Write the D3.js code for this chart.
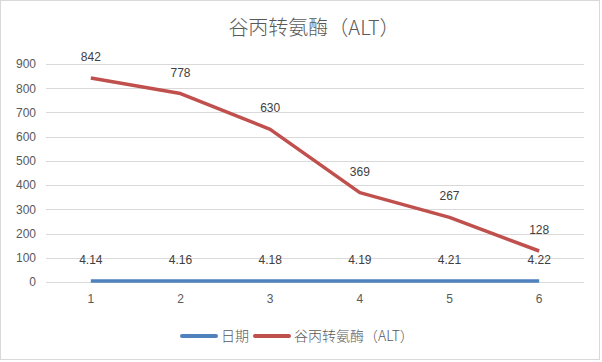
<!DOCTYPE html>
<html>
<head>
<meta charset="utf-8">
<script src="https://cdn.jsdelivr.net/npm/d3@7"></script>
<style>
  body { margin: 0; background: #fff; }
  text { font-family: "Noto Sans CJK SC", "Noto Sans", sans-serif; }
</style>
</head>
<body>
<div id="chart"></div>
<script>
// chart data
var categories = ["1", "2", "3", "4", "5", "6"];
var dateValues = [4.14, 4.16, 4.18, 4.19, 4.21, 4.22];
var altValues = [842, 778, 630, 369, 267, 128];
var yTicks = [0, 100, 200, 300, 400, 500, 600, 700, 800, 900];
var seriesNames = ["日期", "谷丙转氨酶（ALT）"];
var titleText = "谷丙转氨酶（ALT）";

var W = 602, H = 362;
var margin = {top: 64, right: 18, bottom: 80, left: 46};
var width = W - margin.left - margin.right;
var height = H - margin.top - margin.bottom;

var svg = d3.select("#chart").append("svg")
            .attr("width", W)
            .attr("height", H);

// outer frame
svg.append("rect")
   .attr("x", 0.5).attr("y", 0.5)
   .attr("width", W - 3).attr("height", H - 3)
   .attr("fill", "#fff")
   .attr("stroke", "#d9d9d9");

svg.append("text")
   .attr("x", 314).attr("y", 35)
   .attr("text-anchor", "middle")
   .attr("font-size", 20)
   .attr("font-weight", 300)
   .attr("fill", "#595959")
   .text(titleText);

var g = svg.append("g")
           .attr("transform", "translate(" + margin.left + "," + margin.top + ")");

var x = d3.scaleBand().domain(categories).range([0, width]);
var y = d3.scaleLinear().domain([0, 900]).range([height, 0]);

// grid lines
g.append("g")
 .selectAll("line")
 .data(yTicks)
 .enter()
 .append("line")
 .attr("x1", 0).attr("x2", width)
 .attr("y1", function(d) { return Math.round(y(d)) + 0.5; })
 .attr("y2", function(d) { return Math.round(y(d)) + 0.5; })
 .attr("stroke", "#d9d9d9");

var yAxis = g.append("g")
             .call(d3.axisLeft(y).tickValues(yTicks).tickSize(0).tickPadding(10));
yAxis.select(".domain").remove();
yAxis.selectAll("text").attr("font-size", 12).attr("fill", "#595959")
     .style("font-family", "'Liberation Sans', sans-serif");

var xAxis = g.append("g")
             .attr("transform", "translate(0," + height + ")")
             .call(d3.axisBottom(x).tickSize(0).tickPadding(12));
xAxis.select(".domain").remove();
xAxis.selectAll("text").attr("font-size", 12).attr("fill", "#595959")
     .style("font-family", "'Liberation Sans', sans-serif");

var cx = function(i) { return x(categories[i]) + x.bandwidth() / 2; };

var line = d3.line()
             .x(function(d, i) { return cx(i); })
             .y(function(d) { return y(d); });

var series = [
  {values: dateValues, color: "#4f81bd"},
  {values: altValues, color: "#c0504d"}
];

series.forEach(function(s) {
  g.append("path")
   .datum(s.values)
   .attr("d", line)
   .attr("fill", "none")
   .attr("stroke", s.color)
   .attr("stroke-width", 3.5)
   .attr("stroke-linejoin", "round");

  g.append("g")
   .selectAll("text")
   .data(s.values)
   .enter()
   .append("text")
   .attr("x", function(d, i) { return cx(i); })
   .attr("y", function(d) { return y(d) - 17; })
   .attr("text-anchor", "middle")
   .attr("font-size", 12)
   .attr("fill", "#404040")
   .style("font-family", "'Liberation Sans', sans-serif")
   .text(function(d) { return d; });
});

// legend
var legend = svg.append("g").attr("transform", "translate(0,336)");
var legendX = [182, 255];
series.forEach(function(s, i) {
  legend.append("line")
        .attr("x1", legendX[i]).attr("x2", legendX[i] + 34)
        .attr("y1", 0).attr("y2", 0)
        .attr("stroke", s.color)
        .attr("stroke-width", 4)
        .attr("stroke-linecap", "round");
  legend.append("text")
        .attr("x", legendX[i] + 39)
        .attr("y", 5)
        .attr("font-size", 14)
        .attr("font-weight", 300)
        .attr("fill", "#595959")
        .text(seriesNames[i]);
});
</script>
</body>
</html>
